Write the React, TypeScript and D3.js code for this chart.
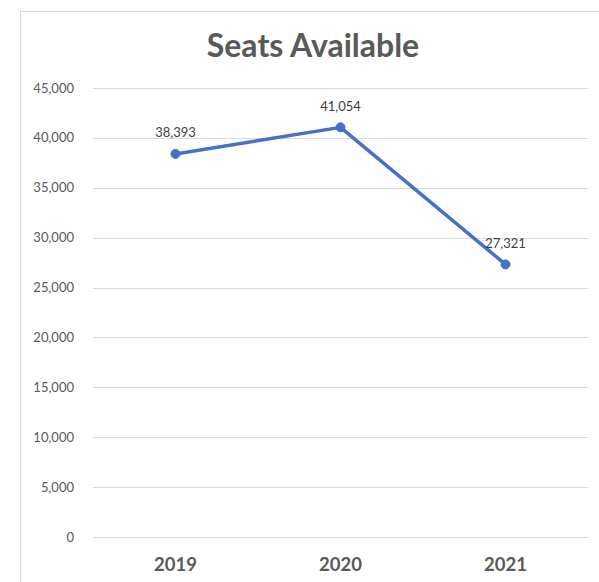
import React from "react";
import * as d3 from "d3";

const categories = ["2019", "2020", "2021"];
const seats = [38393, 41054, 27321];
const yTicks = [0, 5000, 10000, 15000, 20000, 25000, 30000, 35000, 40000, 45000];
const title = "Seats Available";

export default function App() {
  const W = 599;
  const H = 582;
  const left = 93;
  const right = 588;
  const top = 88;
  const bottom = 537;
  const x = d3.scaleBand<string>().domain(categories).range([left, right]);
  const y = d3.scaleLinear().domain([0, 45000]).range([bottom, top]);
  const fmt = d3.format(",");
  const line = d3
    .line<number>()
    .x((_, i) => (x(categories[i]) as number) + x.bandwidth() / 2)
    .y((d) => y(d));
  const font = "Lato, 'Open Sans', sans-serif";
  const textColor = "#595959";

  return (
    <svg
      width={W}
      height={H}
      style={{ position: "absolute", left: 0, top: 0, background: "#fff" }}
    >
      <rect x={0} y={0} width={W} height={H} fill="#fff" />
      <rect x={20.5} y={11.5} width={700} height={700} fill="#fff" stroke="#d9d9d9" strokeWidth={1} />
      <text
        x={313}
        y={57}
        textAnchor="middle"
        fontFamily={font}
        fontWeight="bold"
        fontSize={32}
        fill={textColor}
      >
        {title}
      </text>
      {yTicks.map((t) => (
        <g key={t}>
          <line
            x1={left}
            x2={right}
            y1={Math.round(y(t)) + 0.5}
            y2={Math.round(y(t)) + 0.5}
            stroke="#d9d9d9"
            strokeWidth={1}
          />
          <text
            x={74}
            y={y(t) + 4.5}
            textAnchor="end"
            fontFamily={font}
            fontSize={13}
            fill={textColor}
          >
            {fmt(t)}
          </text>
        </g>
      ))}
      {categories.map((c) => (
        <text
          key={c}
          x={(x(c) as number) + x.bandwidth() / 2}
          y={571}
          textAnchor="middle"
          fontFamily={font}
          fontWeight="bold"
          fontSize={18.5}
          fill={textColor}
        >
          {c}
        </text>
      ))}
      <path d={line(seats) || ""} fill="none" stroke="#4472C4" strokeWidth={3.5} strokeLinejoin="round" />
      {seats.map((v, i) => {
        const cx = (x(categories[i]) as number) + x.bandwidth() / 2;
        return (
          <g key={i}>
            <circle cx={cx} cy={y(v)} r={4.5} fill="#4472C4" stroke="#4472C4" strokeWidth={1} />
            <text
              x={cx}
              y={y(v) - 16.5}
              textAnchor="middle"
              fontFamily={font}
              fontSize={13}
              fill="#404040"
            >
              {fmt(v)}
            </text>
          </g>
        );
      })}
    </svg>
  );
}
